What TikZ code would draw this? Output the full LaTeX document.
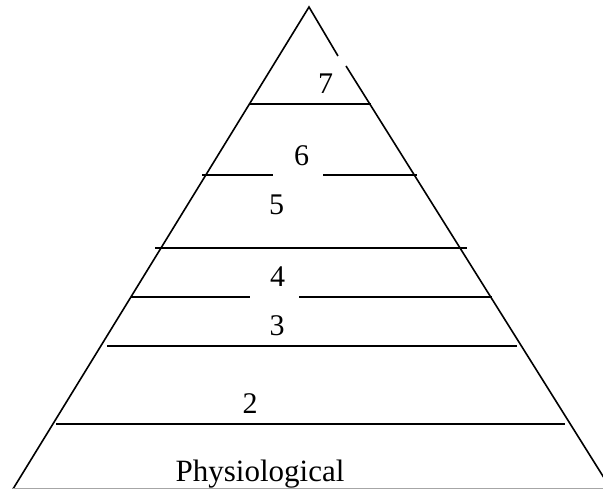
\documentclass[tikz,border=0pt]{standalone}
\usepackage{fontspec}
\setmainfont{Liberation Serif}
\begin{document}
\begin{tikzpicture}[x=1pt,y=-1pt,
  edge/.style={line width=1.6pt,black},
  level/.style={line width=1.6pt,black},
  baseline/.style={line width=1.4pt,black!35},
  lbl/.style={anchor=base,inner sep=0pt,font=\fontsize{30}{36}\selectfont},
  big/.style={anchor=base,inner sep=0pt,font=\fontsize{31}{37}\selectfont}]
\useasboundingbox (0,0) rectangle (603,489);
\clip (0,0) rectangle (603,489);
% sides
\coordinate (apex) at (309,7);
\coordinate (bl) at (13,489);
\coordinate (gapA) at (338,56);
\coordinate (gapB) at (346,66);
\coordinate (br) at (611,489);
\draw[edge] (bl) -- (apex) -- (gapA);
\draw[edge] (gapB) -- (br);
% level lines
\draw[level] (250,104) -- (371,104);
\draw[level] (202,175) -- (273,175);
\draw[level] (323,175) -- (417,175);
\draw[level] (155,248) -- (467,248);
\draw[level] (131,297) -- (250,297);
\draw[level] (299,297) -- (492,297);
\draw[level] (107,346) -- (517,346);
\draw[level] (56,424) -- (565,424);
\draw[baseline] (13,488.5) -- (603,488.5);
% labels
\node[lbl] (n7) at (325.5,94) {7};
\node[lbl] (n6) at (301.5,166) {6};
\node[lbl] (n5) at (276.5,215) {5};
\node[lbl] (n4) at (277.5,287) {4};
\node[lbl] (n3) at (277,336) {3};
\node[lbl] (n2) at (250,413) {2};
\node[big] (n1) at (260,481) {Physiological};
\end{tikzpicture}
\end{document}
